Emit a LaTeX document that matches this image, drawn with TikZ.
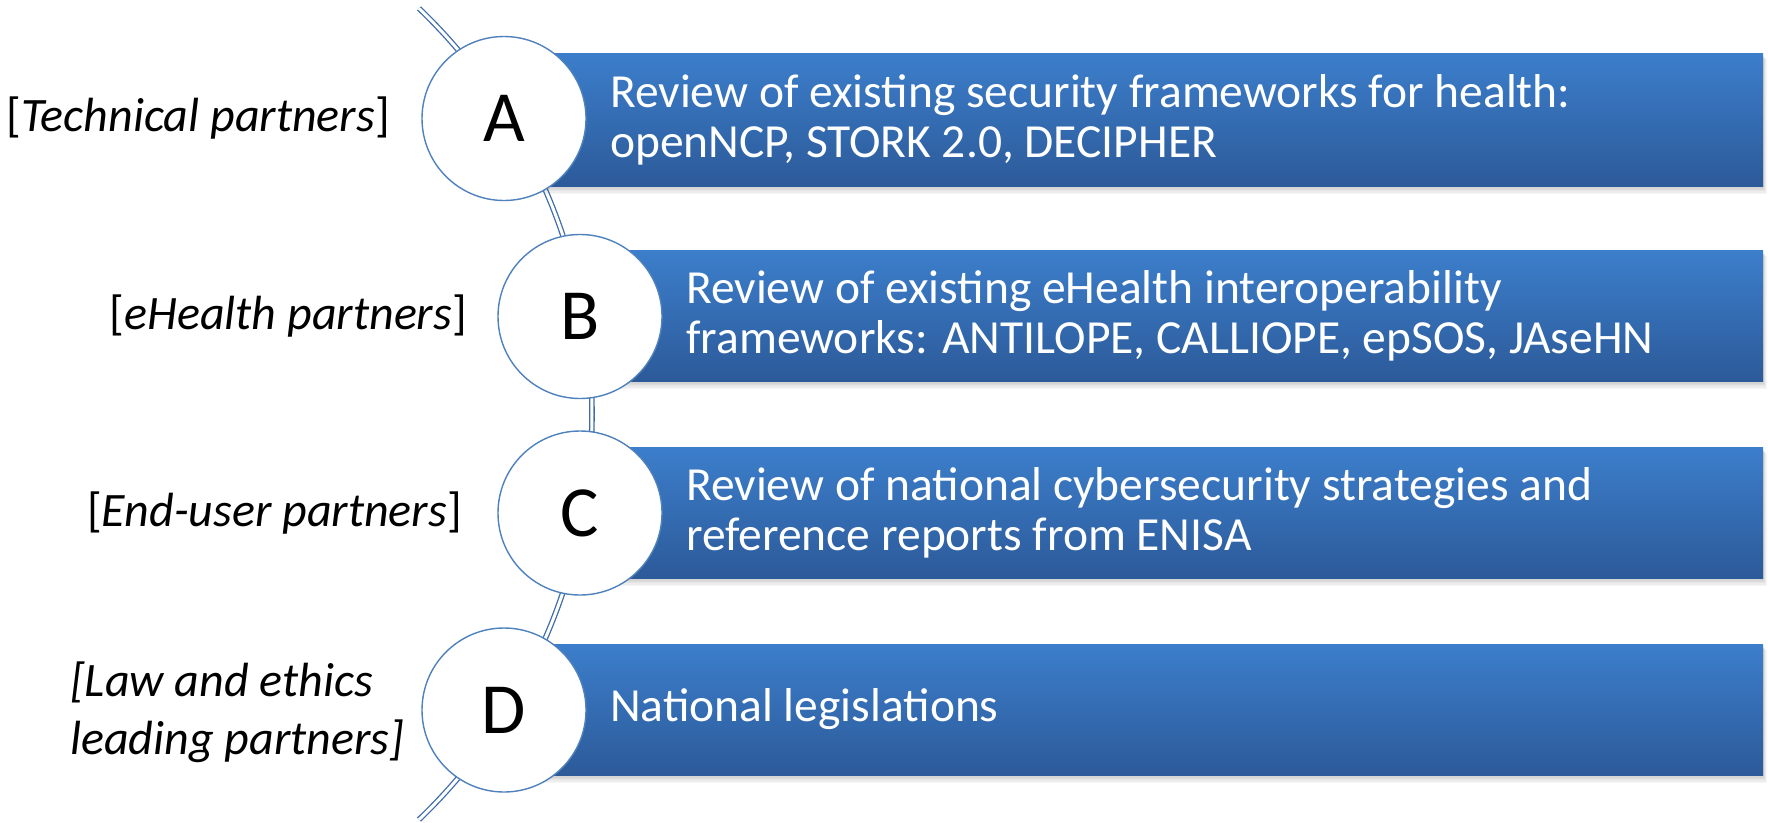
\documentclass[tikz,border=0pt]{standalone}
\usepackage{fontspec}
\setmainfont{Carlito}
\usetikzlibrary{calc}
\definecolor{barTop}{RGB}{60,126,203}
\definecolor{barBot}{RGB}{44,90,153}
\definecolor{ringBlue}{RGB}{79,129,189}
\definecolor{spineBlue}{RGB}{62,108,170}
\tikzset{
  barbox/.style={rectangle, inner sep=0pt, top color=barTop, bottom color=barBot, draw=none, anchor=north west},
  disc/.style={circle, draw=ringBlue, line width=1.4pt, fill=white, minimum size=164pt, inner sep=0pt, font=\fontsize{72}{72}\selectfont},
  bartext/.style={anchor=west, text=white, align=left, inner sep=0pt, font=\fontsize{47.5}{50}\selectfont},
  partner/.style={anchor=east, inner sep=0pt, align=left, font=\fontsize{48}{58}\selectfont},
  spineline/.style={draw=spineBlue, line width=1.3pt, double=white, double distance=3pt}
}
\newcommand{\barshade}[4]{%
  \foreach \k in {1,...,6}{\fill[black,opacity=0.035] (#1+\k*0.2,#2+2+\k*0.6) rectangle (#3+\k*0.6,#4+\k*1.3);}}
\begin{document}
\begin{tikzpicture}[x=1pt,y=-1pt]
\useasboundingbox (0,0) rectangle (1768,822);
% spine
\coordinate (hub) at (30,414);
\coordinate (spinetop) at ($(hub)+(-46.2:562)$);
\draw[spineline] (spinetop) arc[start angle=-46.2, end angle=46.2, radius=562] coordinate (spinebottom);
% bars
\barshade{504}{53}{1763}{186}
\node[barbox, minimum width=1259pt, minimum height=133pt] (barA) at (504,53) {};
\barshade{580}{250}{1763}{381}
\node[barbox, minimum width=1183pt, minimum height=131pt] (barB) at (580,250) {};
\barshade{580}{447}{1763}{578}
\node[barbox, minimum width=1183pt, minimum height=131pt] (barC) at (580,447) {};
\barshade{504}{644}{1763}{775}
\node[barbox, minimum width=1259pt, minimum height=131pt] (barD) at (504,644) {};
% circles
\node[disc] (A) at (504,118.5) {A};
\node[disc] (B) at (580,316.5) {B};
\node[disc] (C) at (580,513) {C};
\node[disc] (D) at (504,710) {D};
% bar texts
\node[bartext] (tA) at (610,119.5) {Review of existing security frameworks for health:\\openNCP, STORK 2.0, DECIPHER};
\node[bartext] (tB) at (686,315.5) {Review of existing eHealth interoperability\\frameworks: ANTILOPE, CALLIOPE, epSOS, JAseHN};
\node[bartext] (tC) at (686,512.5) {Review of national cybersecurity strategies and\\reference reports from ENISA};
\node[bartext] (tD) at (610,709.5) {National legislations};
% partner labels
\node[partner] (pA) at (390,118) {[\textit{Technical partners}]};
\node[partner] (pB) at (467,316) {[\textit{eHealth partners}]};
\node[partner] (pC) at (462,513) {[\textit{End-user partners}]};
\node[partner, anchor=west] (pD) at (70,712) {\textit{[Law and ethics}\\\textit{leading partners]}};
\end{tikzpicture}
\end{document}
